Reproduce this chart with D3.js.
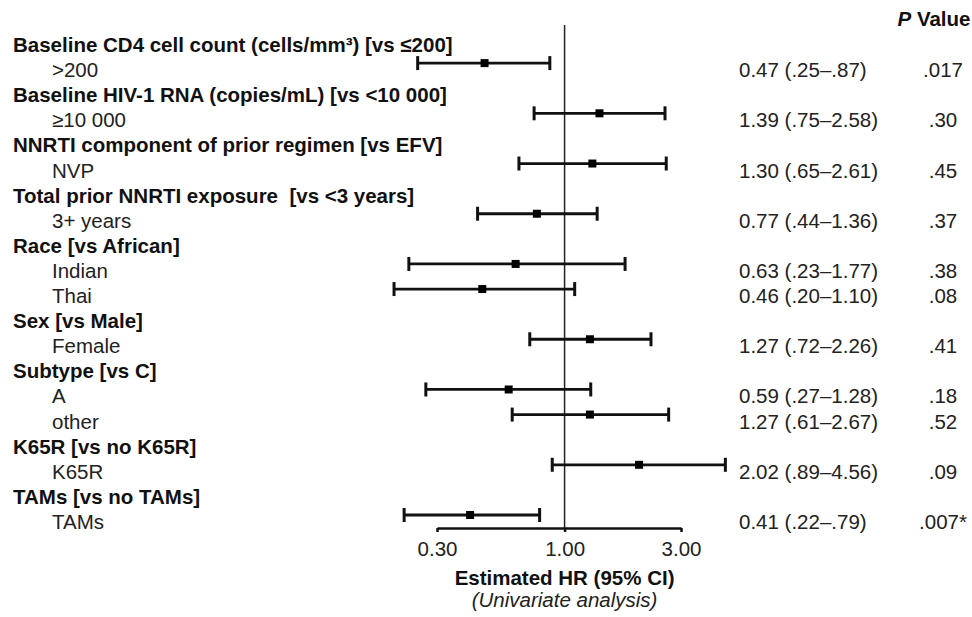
<!DOCTYPE html>
<html>
<head>
<meta charset="utf-8">
<script src="https://cdn.jsdelivr.net/npm/d3@7"></script>
<style>
  body { margin: 0; background: #fff; }
  svg { font-family: "Liberation Sans", Arial, Helvetica, sans-serif; }
</style>
</head>
<body>
<div id="chart"></div>
<script>
(function () {
    // group headers (bold lines)
    const groupLabels = [
        "Baseline CD4 cell count (cells/mm³) [vs ≤200]",
        "Baseline HIV-1 RNA (copies/mL) [vs <10 000]",
        "NNRTI component of prior regimen [vs EFV]",
        "Total prior NNRTI exposure  [vs <3 years]",
        "Race [vs African]",
        "Sex [vs Male]",
        "Subtype [vs C]",
        "K65R [vs no K65R]",
        "TAMs [vs no TAMs]"
    ];

    // levels compared, with the group each belongs to
    const levelLabels = [">200", "≥10 000", "NVP", "3+ years", "Indian", "Thai",
        "Female", "A", "other", "K65R", "TAMs"];
    const levelGroup = [0, 1, 2, 3, 4, 4, 5, 6, 6, 7, 8];

    // hazard ratios and 95% CI
    const hrValues = [0.47, 1.39, 1.30, 0.77, 0.63, 0.46, 1.27, 0.59, 1.27, 2.02, 0.41];
    const ciLower = [0.25, 0.75, 0.65, 0.44, 0.23, 0.20, 0.72, 0.27, 0.61, 0.89, 0.22];
    const ciUpper = [0.87, 2.58, 2.61, 1.36, 1.77, 1.10, 2.26, 1.28, 2.67, 4.56, 0.79];
    const pValues = [".017", ".30", ".45", ".37", ".38", ".08", ".41", ".18", ".52", ".09", ".007*"];

    const tickValues = [0.30, 1.00, 3.00];

    const width = 972, height = 617;
    const fontSize = 20.5;

    // build line list: header then its levels
    const lines = [];
    groupLabels.forEach((g, gi) => {
        lines.push({ type: "group", text: g });
        levelLabels.forEach((l, li) => {
            if (levelGroup[li] === gi) lines.push({ type: "level", text: l, idx: li });
        });
    });

    const svg = d3.select("#chart").append("svg")
        .attr("width", width)
        .attr("height", height);

    // scales
    const x = d3.scaleLog().domain([0.30, 3.00]).range([437, 681]);
    const y = d3.scaleLinear().domain([0, lines.length - 1]).range([45, 522]);

    const ink = "#111";

    // left labels
    svg.append("g").selectAll("text")
        .data(lines)
        .enter().append("text")
        .attr("x", d => d.type === "group" ? 13 : 52)
        .attr("y", (d, i) => y(i) + 7)
        .attr("font-size", fontSize)
        .attr("font-weight", d => d.type === "group" ? "bold" : "normal")
        .attr("fill", d => d.type === "group" ? ink : "#222")
        .style("white-space", "pre")
        .text(d => d.text);

    // reference line at HR = 1
    svg.append("line")
        .attr("x1", x(1)).attr("x2", x(1))
        .attr("y1", 25).attr("y2", 528)
        .attr("stroke", "#222")
        .attr("stroke-width", 1.5);

    // axis
    const axis = svg.append("g")
        .attr("transform", "translate(0,528)")
        .call(d3.axisBottom(x)
            .tickValues(tickValues)
            .tickFormat(d3.format(".2f"))
            .tickSize(4)
            .tickPadding(9)
            .tickSizeOuter(0));
    axis.select(".domain").attr("stroke", ink).attr("stroke-width", 2.5);
    axis.selectAll(".tick line").attr("stroke", ink).attr("stroke-width", 2.5);
    axis.selectAll(".tick text")
        .attr("font-size", fontSize)
        .attr("font-family", "Liberation Sans, Arial, sans-serif")
        .attr("fill", "#222");

    // rows with estimates
    const rows = lines.map((d, i) => Object.assign({ line: i }, d)).filter(d => d.type === "level");
    const by = d => y(d.line) - 7;

    const marks = svg.append("g").selectAll("g")
        .data(rows)
        .enter().append("g");

    marks.append("line")
        .attr("x1", d => x(ciLower[d.idx]))
        .attr("x2", d => x(ciUpper[d.idx]))
        .attr("y1", by).attr("y2", by)
        .attr("stroke", ink).attr("stroke-width", 2.8);

    [ciLower, ciUpper].forEach(arr => {
        marks.append("line")
            .attr("x1", d => x(arr[d.idx]))
            .attr("x2", d => x(arr[d.idx]))
            .attr("y1", d => by(d) - 7).attr("y2", d => by(d) + 7)
            .attr("stroke", ink).attr("stroke-width", 3);
    });

    marks.append("rect")
        .attr("x", d => x(hrValues[d.idx]) - 4)
        .attr("y", d => by(d) - 4)
        .attr("width", 8).attr("height", 8)
        .attr("fill", "#000");

    // HR (95% CI) text
    const fmt = v => v < 1 ? d3.format(".2f")(v).replace(/^0/, "") : d3.format(".2f")(v);
    marks.append("text")
        .attr("x", 739)
        .attr("y", d => y(d.line) + 7)
        .attr("font-size", fontSize)
        .attr("fill", "#222")
        .text(d => `${d3.format(".2f")(hrValues[d.idx])} (${fmt(ciLower[d.idx])}–${fmt(ciUpper[d.idx])})`);

    marks.append("text")
        .attr("x", 943)
        .attr("y", d => y(d.line) + 7)
        .attr("font-size", fontSize)
        .attr("fill", "#222")
        .attr("text-anchor", "middle")
        .text(d => pValues[d.idx]);

    // P value header
    const ph = svg.append("text")
        .attr("x", 934).attr("y", 26)
        .attr("font-size", fontSize)
        .attr("font-weight", "bold")
        .attr("fill", ink)
        .attr("text-anchor", "middle");
    ph.append("tspan").attr("font-style", "italic").text("P");
    ph.append("tspan").text(" Value");

    // axis titles
    svg.append("text")
        .attr("x", x(1)).attr("y", 585)
        .attr("font-size", fontSize)
        .attr("font-weight", "bold")
        .attr("fill", ink)
        .attr("text-anchor", "middle")
        .text("Estimated HR (95% CI)");

    svg.append("text")
        .attr("x", x(1)).attr("y", 607)
        .attr("font-size", fontSize)
        .attr("font-style", "italic")
        .attr("fill", "#222")
        .attr("text-anchor", "middle")
        .text("(Univariate analysis)");
})();
</script>
</body>
</html>
